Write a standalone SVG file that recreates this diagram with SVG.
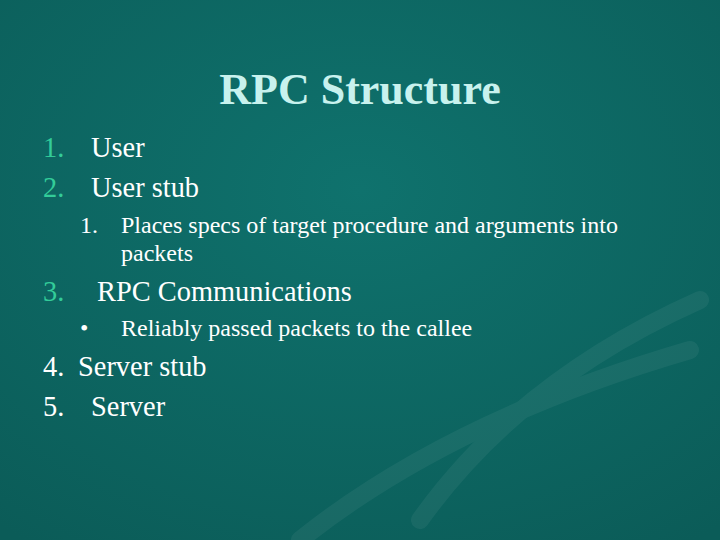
<svg xmlns="http://www.w3.org/2000/svg" width="720" height="540" viewBox="0 0 720 540">
<defs>
<radialGradient id="bg" cx="0.5" cy="0.35" r="0.8">
<stop offset="0" stop-color="#0f726d"/>
<stop offset="1" stop-color="#0b5c58"/>
</radialGradient>
</defs>
<style>
text{font-family:"Liberation Serif","Times New Roman",serif;fill:#ffffff}
.n{fill:#33cc99}
.b{font-size:28.4px}
.s{font-size:24px}
</style>
<rect width="720" height="540" fill="url(#bg)"/>
<g opacity="0.05" stroke="#ffffff" fill="none" stroke-width="18" stroke-linecap="round">
<path d="M420 520 Q520 380 700 300"/>
<path d="M300 540 Q450 420 690 350"/>
</g>
<text x="360" y="104" text-anchor="middle" style="font-size:44px;font-weight:bold;fill:#c8f2ee">RPC Structure</text>
<text class="b n" x="43" y="157">1.</text><text class="b" x="91" y="157">User</text>
<text class="b n" x="43" y="197">2.</text><text class="b" x="91" y="197">User stub</text>
<text class="s" x="80" y="233">1.</text><text class="s" x="121" y="233">Places specs of target procedure and arguments into</text>
<text class="s" x="121" y="261">packets</text>
<text class="b n" x="43" y="301">3.</text><text class="b" x="97" y="301">RPC Communications</text>
<text class="s" x="80" y="336">•</text><text class="s" x="121" y="336">Reliably passed packets to the callee</text>
<text class="b" x="43" y="376">4.</text><text class="b" x="78" y="376">Server stub</text>
<text class="b" x="43" y="416">5.</text><text class="b" x="91" y="416">Server</text>
</svg>
